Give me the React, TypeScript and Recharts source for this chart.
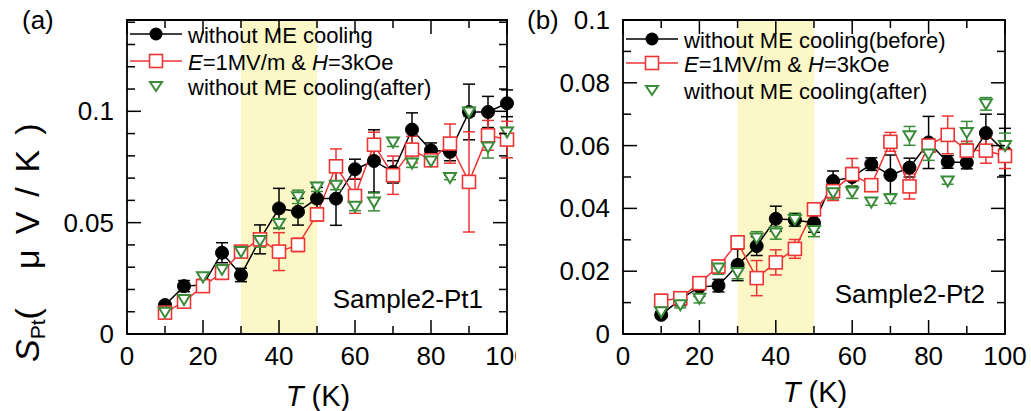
import React from "react"
import { ComposedChart, Line, XAxis, YAxis, ErrorBar, ReferenceArea, Legend } from "recharts"

// temperatures (K)
const temps = [10, 15, 20, 25, 30, 35, 40, 45, 50, 55, 60, 65, 70, 75, 80, 85, 90, 95, 100]

// panel (a) Sample2-Pt1
const blackA = [0.013, 0.0215, 0.022, 0.0365, 0.0265, 0.0425, 0.0564, 0.0549, 0.0608, 0.0608, 0.074, 0.0777, 0.0728, 0.0918, 0.0825, 0.0818, 0.0997, 0.0997, 0.1036]
const blackAErr = [0.0012, 0.0025, 0.0025, 0.0045, 0.003, 0.0065, 0.009, 0.006, 0.005, 0.012, 0.0045, 0.014, 0.005, 0.0075, 0.0033, 0.004, 0.0125, 0.007, 0.006]
const redA = [0.0096, 0.0145, 0.0215, 0.0275, 0.037, 0.0425, 0.037, 0.04, 0.0537, 0.0753, 0.062, 0.085, 0.0713, 0.0828, 0.078, 0.0855, 0.0683, 0.0892, 0.0873]
const redAErr = [0.002, 0.002, 0.002, 0.003, 0.002, 0.002, 0.0085, 0.003, 0.003, 0.0078, 0.0078, 0.0056, 0.0086, 0.006, 0.002, 0.0088, 0.0225, 0.0067, 0.0082]
const greenA = [0.0098, 0.0155, 0.0257, 0.029, 0.037, 0.042, 0.0496, 0.0616, 0.066, 0.0668, 0.0574, 0.0593, 0.0862, 0.0768, 0.0777, 0.0703, 0.0997, 0.084, 0.0907]
const greenAErr = [0.001, 0.0015, 0.0015, 0.002, 0.002, 0.003, 0.002, 0.003, 0.002, 0.002, 0.002, 0.004, 0.002, 0.002, 0.002, 0.001, 0.002, 0.005, 0.002]

// panel (b) Sample2-Pt2
const blackB = [0.0061, 0.011, 0.015, 0.0154, 0.022, 0.028, 0.0367, 0.0363, 0.0354, 0.0487, 0.05, 0.0541, 0.0506, 0.053, 0.061, 0.0548, 0.0546, 0.064, 0.058]
const blackBErr = [0.001, 0.002, 0.003, 0.002, 0.005, 0.003, 0.004, 0.002, 0.003, 0.0032, 0.003, 0.002, 0.0064, 0.003, 0.0083, 0.002, 0.002, 0.006, 0.0075]
const redB = [0.0106, 0.0114, 0.0162, 0.0215, 0.0292, 0.0178, 0.0228, 0.0271, 0.0397, 0.0455, 0.0509, 0.0474, 0.0612, 0.047, 0.06, 0.0634, 0.0584, 0.0584, 0.0567]
const redBErr = [0.002, 0.002, 0.002, 0.002, 0.002, 0.0056, 0.004, 0.003, 0.002, 0.003, 0.005, 0.002, 0.003, 0.004, 0.002, 0.006, 0.003, 0.004, 0.004]
const greenB = [0.0071, 0.0093, 0.0114, 0.021, 0.0196, 0.0306, 0.0322, 0.0365, 0.033, 0.045, 0.0452, 0.042, 0.0431, 0.0631, 0.0573, 0.0487, 0.0642, 0.0733, 0.06]
const greenBErr = [0.001, 0.001, 0.0015, 0.002, 0.002, 0.002, 0.002, 0.002, 0.002, 0.002, 0.002, 0.001, 0.0015, 0.003, 0.002, 0.001, 0.0035, 0.002, 0.004]

const xTicks = [0, 10, 20, 30, 40, 50, 60, 70, 80, 90, 100]
const xLabels = [0, 20, 40, 60, 80, 100]
const yTicksA = [0, 0.01, 0.02, 0.03, 0.04, 0.05, 0.06, 0.07, 0.08, 0.09, 0.1, 0.11, 0.12, 0.13, 0.14]
const yLabelsA = [0, 0.05, 0.1]
const yTicksB = [0, 0.01, 0.02, 0.03, 0.04, 0.05, 0.06, 0.07, 0.08, 0.09, 0.1]
const yLabelsB = [0, 0.02, 0.04, 0.06, 0.08, 0.1]
const band = [30, 50]

const RED = "#EE3535"
const GREEN = "#3A8C3A"
const BAND = "#FBF7C6"

const build = (b: number[], be: number[], r: number[], re: number[], g: number[], ge: number[]) =>
  temps.map((T, i) => ({ T, black: b[i], blackErr: be[i], red: r[i], redErr: re[i], green: g[i], greenErr: ge[i] }))

const dataA = build(blackA, blackAErr, redA, redAErr, greenA, greenAErr)
const dataB = build(blackB, blackBErr, redB, redBErr, greenB, greenBErr)

const isLabel = (v: number, labels: number[]) => labels.some((l) => Math.abs(l - v) < 1e-9)

const makeXTick = (labels: number[], plotTop: number) => (props: any) => {
  const { x, y, payload } = props
  const major = isLabel(payload.value, labels)
  const len = major ? 14 : 8
  return (
    <g>
      <line x1={x} y1={y} x2={x} y2={y - len} stroke="#000" strokeWidth={1.5} />
      <line x1={x} y1={plotTop} x2={x} y2={plotTop + len} stroke="#000" strokeWidth={1.5} />
      {major && (
        <text x={x} y={y + 31} textAnchor="middle" fontSize={26} fill="#000">
          {payload.value}
        </text>
      )}
    </g>
  )
}

const makeYTick = (labels: number[], plotRight: number) => (props: any) => {
  const { x, y, payload } = props
  const major = isLabel(payload.value, labels)
  const len = major ? 14 : 8
  return (
    <g>
      <line x1={x} y1={y} x2={x + len} y2={y} stroke="#000" strokeWidth={1.5} />
      <line x1={plotRight - len} y1={y} x2={plotRight} y2={y} stroke="#000" strokeWidth={1.5} />
      {major && (
        <text x={x - 13} y={y + 9} textAnchor="end" fontSize={26} fill="#000">
          {payload.value}
        </text>
      )}
    </g>
  )
}

const renderCircle = (p: any) => <circle key={`c${p.index}`} cx={p.cx} cy={p.cy} r={6.5} fill="#000" stroke="#000" />
const renderSquare = (p: any) => (
  <rect key={`s${p.index}`} x={p.cx - 6.5} y={p.cy - 6.5} width={13} height={13} fill="#fff" stroke={RED} strokeWidth={1.6} />
)
const renderTriangle = (p: any) => (
  <polygon
    key={`t${p.index}`}
    points={`${p.cx - 6},${p.cy - 4.5} ${p.cx + 6},${p.cy - 4.5} ${p.cx},${p.cy + 5.5}`}
    fill="#fff"
    stroke={GREEN}
    strokeWidth={2}
  />
)

const LegendBox = ({ first, rows }: { first: string; rows: number[] }) => (
  <svg width={380} height={90} style={{ overflow: "visible", display: "block" }}>
    <line x1={3} y1={rows[0]} x2={55} y2={rows[0]} stroke="#000" strokeWidth={1.5} />
    <circle cx={29} cy={rows[0]} r={6.5} fill="#000" />
    <text x={61} y={rows[0] + 9} fontSize={22} fill="#000">{first}</text>
    <line x1={3} y1={rows[1]} x2={55} y2={rows[1]} stroke={RED} strokeWidth={1.5} />
    <rect x={22.5} y={rows[1] - 6.5} width={13} height={13} fill="#fff" stroke={RED} strokeWidth={1.6} />
    <text x={61} y={rows[1] + 9} fontSize={22} fill="#000">
      <tspan fontStyle="italic">E</tspan>=1MV/m &amp; <tspan fontStyle="italic">H</tspan>=3kOe
    </text>
    <polygon
      points={`${23},${rows[2] - 4} ${35},${rows[2] - 4} ${29},${rows[2] + 5}`}
      fill="#fff"
      stroke={GREEN}
      strokeWidth={2}
    />
    <text x={61} y={rows[2] + 9} fontSize={22} fill="#000">without ME cooling(after)</text>
  </svg>
)

interface PanelProps {
  data: any[]
  width: number
  marginRight: number
  yWidth: number
  yTop: number
  yTicks: number[]
  yLabels: number[]
  legendFirst: string
  legendRows: number[]
  sample: string
  sampleX: number
  sampleY: number
  tag: string
  tagX: number
  titleX: number
  titleY: number
  showYTitle: boolean
}

const Panel = (p: PanelProps) => {
  const plotTop = 20
  const plotRight = p.width - p.marginRight
  return (
    <ComposedChart width={p.width} height={411} data={p.data} margin={{ top: plotTop, right: p.marginRight, bottom: 0, left: 0 }}>
      <ReferenceArea x1={band[0]} x2={band[1]} y1={0} y2={p.yTop} fill={BAND} fillOpacity={1} stroke="none" />
      <XAxis
        type="number"
        dataKey="T"
        domain={[0, 100]}
        ticks={xTicks}
        interval={0}
        height={77}
        axisLine={false}
        tickLine={false}
        tickSize={0}
        tickMargin={0}
        tick={makeXTick(xLabels, plotTop)}
      />
      <YAxis
        type="number"
        domain={[0, p.yTop]}
        ticks={p.yTicks}
        interval={0}
        width={p.yWidth}
        axisLine={false}
        tickLine={false}
        tickSize={0}
        tickMargin={0}
        allowDataOverflow
        tick={makeYTick(p.yLabels, plotRight)}
      />
      <Line dataKey="black" stroke="#000" strokeWidth={1.5} dot={renderCircle} activeDot={false} isAnimationActive={false}>
        <ErrorBar dataKey="blackErr" width={6} stroke="#000" strokeWidth={1.5} direction="y" />
      </Line>
      <Line dataKey="red" stroke={RED} strokeWidth={1.5} dot={renderSquare} activeDot={false} isAnimationActive={false}>
        <ErrorBar dataKey="redErr" width={6} stroke={RED} strokeWidth={1.5} direction="y" />
      </Line>
      <Line dataKey="green" stroke="none" dot={renderTriangle} activeDot={false} isAnimationActive={false}>
        <ErrorBar dataKey="greenErr" width={6} stroke={GREEN} strokeWidth={1.5} direction="y" />
      </Line>
      <ReferenceArea x1={0} x2={100} y1={0} y2={p.yTop} fill="none" stroke="#000" strokeWidth={1.8} />
      <Legend
        layout="horizontal"
        verticalAlign="middle"
        align="center"
        wrapperStyle={{ left: p.yWidth, top: plotTop, width: 380 }}
        content={() => <LegendBox first={p.legendFirst} rows={p.legendRows} />}
      />
      <text x={p.sampleX} y={p.sampleY} textAnchor="end" fontSize={26} fill="#000">{p.sample}</text>
      <text x={p.tagX} y={29} fontSize={26} fill="#000">{p.tag}</text>
      <text x={p.titleX} y={p.titleY} textAnchor="middle" fontSize={29} fill="#000">
        <tspan fontStyle="italic">T</tspan> (K)
      </text>
      {p.showYTitle && (
        <text x={39} y={362} transform="rotate(-90, 39, 362)" fontSize={34} fill="#000">
          <tspan fontStyle="italic">S</tspan>
          <tspan fontSize={21} dy={6}>Pt</tspan>
          <tspan dy={-6} textLength={196} lengthAdjust="spacing">( μV/K)</tspan>
        </text>
      )}
    </ComposedChart>
  )
}

export default function App() {
  return (
    <div
      style={{
        position: "absolute",
        left: 0,
        top: 0,
        width: 1031,
        height: 411,
        background: "#fff",
        fontFamily: "'Liberation Sans', Arial, sans-serif",
      }}
    >
      <div style={{ position: "absolute", left: 0, top: 0 }}>
        <Panel
          data={dataA}
          width={520}
          marginRight={13}
          yWidth={127}
          yTop={0.141}
          yTicks={yTicksA}
          yLabels={yLabelsA}
          legendFirst="without ME cooling"
          legendRows={[14, 41, 66]}
          sample="Sample2-Pt1"
          sampleX={483}
          sampleY={308}
          tag="(a)"
          tagX={22}
          titleX={318}
          titleY={406}
          showYTitle
        />
      </div>
      <div style={{ position: "absolute", left: 516, top: 0, background: "#fff" }}>
        <Panel
          data={dataB}
          width={515}
          marginRight={26}
          yWidth={107}
          yTop={0.1}
          yTicks={yTicksB}
          yLabels={yLabelsB}
          legendFirst="without ME cooling(before)"
          legendRows={[19, 43, 70]}
          sample="Sample2-Pt2"
          sampleX={469}
          sampleY={303}
          tag="(b)"
          tagX={11}
          titleX={299}
          titleY={402}
          showYTitle={false}
        />
      </div>
    </div>
  )
}
